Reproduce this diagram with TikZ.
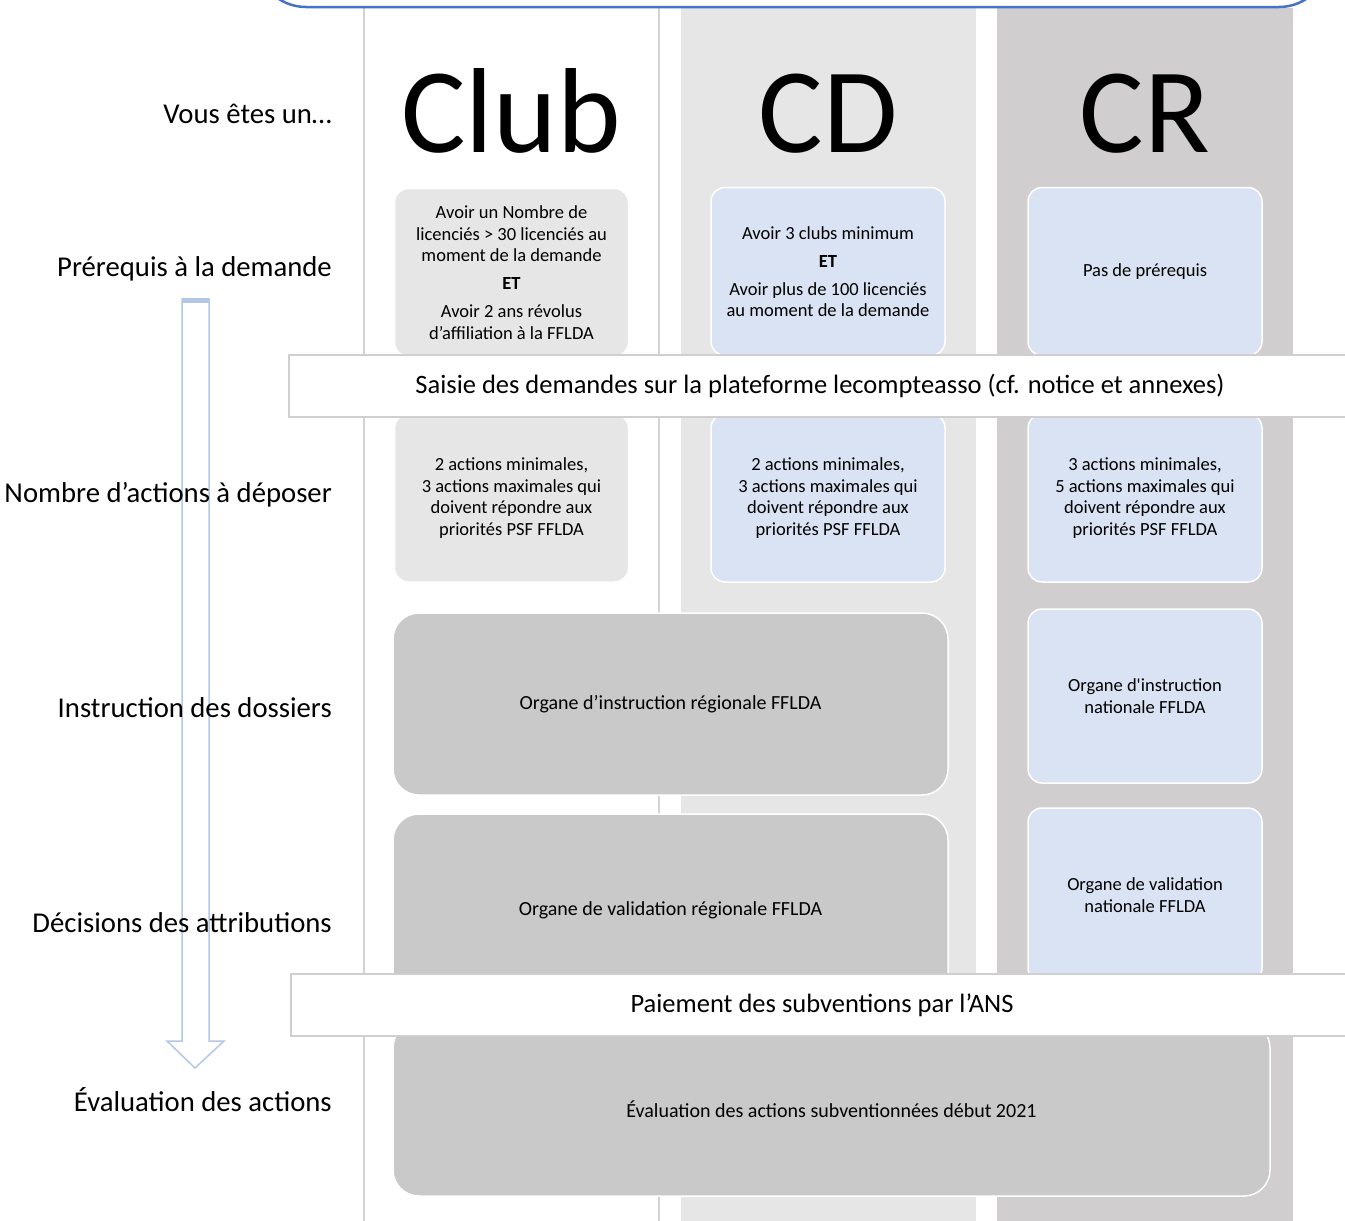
\documentclass[tikz,border=0pt]{standalone}
\usepackage{fontspec}
\setmainfont{Carlito}
\newfontfamily\straightfont{Carlito}
\usepackage{xcolor}
\usetikzlibrary{positioning}
\definecolor{bandcd}{HTML}{E7E6E6}
\definecolor{bandcr}{HTML}{D0CECE}
\definecolor{boxblue}{HTML}{DAE3F3}
\definecolor{boxgray}{HTML}{E7E6E6}
\definecolor{boxdark}{HTML}{C9C9C9}
\definecolor{frameblue}{HTML}{4472C4}
\definecolor{arrowblue}{HTML}{B4C7E7}
\definecolor{linegray}{HTML}{D3D3D3}

\begin{document}
\begin{tikzpicture}[x=1pt, y=-1pt,
    box/.style={rectangle, draw=white, line width=1.5pt, rounded corners=14pt, fill=#1, minimum width=234pt, minimum height=168pt, align=center, inner sep=0pt, font=\fontsize{18.5}{21.5}\selectfont},
    bigbox/.style={box=boxdark, rounded corners=26pt, font=\fontsize{20}{24}\selectfont},
    banner/.style={rectangle, draw=bandcr, line width=2pt, fill=white, minimum width=1062pt, minimum height=62pt, inner sep=0pt, anchor=west, font=\fontsize{26.5}{32}\selectfont},
    rowlabel/.style={anchor=base east, inner sep=0pt, font=\fontsize{28.7}{34}\selectfont},
    coltitle/.style={anchor=base, inner sep=0pt, font=\fontsize{121}{145}\selectfont},
]
\useasboundingbox (0,0) rectangle (1345,1221);
\clip (0,0) rectangle (1345,1221);

% columns
\fill[bandcd] (681,8) rectangle (976,1221);
\fill[bandcr] (997,8) rectangle (1293,1221);
\draw[linegray, line width=2pt] (364,8) -- (364,1221);
\draw[linegray, line width=2pt] (659,8) -- (659,1221);
\draw[frameblue, line width=2.5pt, rounded corners=50pt] (256,-120) rectangle (1329,7);

% process arrow
\draw[arrowblue, line width=1.5pt, fill=white, line join=miter]
    (182,299) -- (209,299) -- (209,1041) -- (224,1041) -- (195,1068) -- (167,1041) -- (182,1041) -- cycle;
\fill[arrowblue] (182,298) rectangle (209,303);

% row labels
\node[rowlabel] (lblvous) at (332,123) {Vous êtes un…};
\node[rowlabel] (lblprereq) at (332,276) {Prérequis à la demande};
\node[rowlabel] (lblactions) at (332,502) {Nombre d’actions à déposer};
\node[rowlabel] (lblinstr) at (332,717) {Instruction des dossiers};
\node[rowlabel] (lbldecis) at (332,932) {Décisions des attributions};
\node[rowlabel] (lbleval) at (332,1111) {Évaluation des actions};

% column titles
\node[coltitle] (club) at (511,152) {Club};
\node[coltitle] (cd) at (828,152) {CD};
\node[coltitle] (cr) at (1145,152) {CR};

% prerequisites
\node[box=boxgray] (clubprereq) at (511.5,272.5) {Avoir un Nombre de\\licenciés > 30 licenciés au\\moment de la demande\\[6.5pt]\textbf{ET}\\[6.5pt]Avoir 2 ans révolus\\d’affiliation à la FFLDA};
\node[box=boxblue] (cdprereq) at (828,271.5) {Avoir 3 clubs minimum\\[6.5pt]\textbf{ET}\\[6.5pt]Avoir plus de 100 licenciés\\au moment de la demande};
\node[box=boxblue] (crprereq) at (1145,271.5) {Pas de prérequis};

% number of actions
\node[box=boxgray] (clubactions) at (511.5,498) {2 actions minimales,\\3 actions maximales qui\\doivent répondre aux\\priorités PSF FFLDA};
\node[box=boxblue] (cdactions) at (828,498) {2 actions minimales,\\3 actions maximales qui\\doivent répondre aux\\priorités PSF FFLDA};
\node[box=boxblue] (cractions) at (1145,498) {3 actions minimales,\\5 actions maximales qui\\doivent répondre aux\\priorités PSF FFLDA};

% instruction and decisions
\node[bigbox, minimum width=555pt, minimum height=182pt] (reginstr) at (670.5,704) {Organe d’instruction régionale FFLDA};
\node[box=boxblue, minimum height=174pt] (natinstr) at (1145,696) {Organe d{\straightfont'}instruction\\nationale FFLDA};
\node[bigbox, minimum width=555pt, minimum height=192pt] (regvalid) at (670.5,910) {Organe de validation régionale FFLDA};
\node[box=boxblue, minimum height=174pt] (natvalid) at (1145,895) {Organe de validation\\nationale FFLDA};

% evaluation
\node[bigbox, minimum width=877pt, minimum height=174pt] (evaluation) at (831.5,1109) {Évaluation des actions subventionnées début 2021};

% banners
\node[banner] (saisie) at (288,386) {Saisie des demandes sur la plateforme lecompteasso (cf. notice et annexes)};
\node[banner] (paiement) at (290,1005) {Paiement des subventions par l’ANS};

\end{tikzpicture}
\end{document}
